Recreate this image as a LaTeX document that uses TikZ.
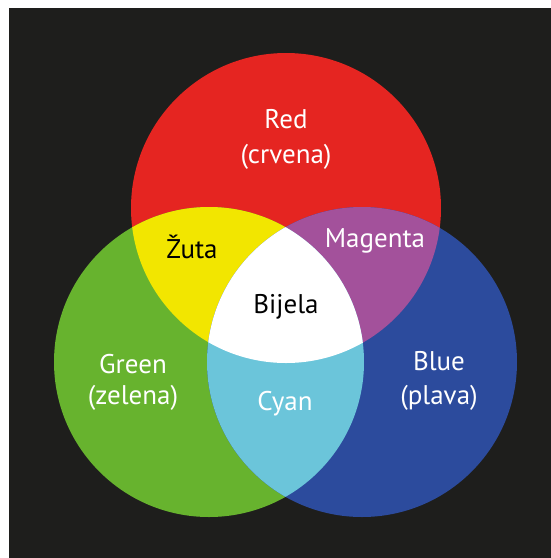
\documentclass[tikz,border=0pt]{standalone}
\usepackage{fontspec}
\setmainfont{PT Sans}
\definecolor{bg}{HTML}{1E1E1C}
\definecolor{cred}{HTML}{E52521}
\definecolor{cgreen}{HTML}{67B32E}
\definecolor{cblue}{HTML}{2C4B9D}
\definecolor{cyellow}{HTML}{F2E600}
\definecolor{cmagenta}{HTML}{A3519B}
\definecolor{ccyan}{HTML}{6BC5DA}
\begin{document}
\begin{tikzpicture}[x=1pt,y=-1pt,
  lbl/.style={font=\fontsize{27}{34}\selectfont, align=center, inner sep=0pt},
  wlbl/.style={lbl, text=white},
  blbl/.style={lbl, text=black}]
\useasboundingbox (0,0) rectangle (551,558);
\fill[white] (0,0) rectangle (551,558);
\fill[bg] (9,8) rectangle (551,558);
\def\R{155}
\coordinate (rc) at (286,208);
\coordinate (gc) at (209,362);
\coordinate (bc) at (362,362);
\fill[cred] (rc) circle[radius=\R];
\fill[cgreen] (gc) circle[radius=\R];
\fill[cblue] (bc) circle[radius=\R];
\begin{scope}
  \clip (rc) circle[radius=\R];
  \fill[cyellow] (gc) circle[radius=\R];
\end{scope}
\begin{scope}
  \clip (rc) circle[radius=\R];
  \fill[cmagenta] (bc) circle[radius=\R];
\end{scope}
\begin{scope}
  \clip (gc) circle[radius=\R];
  \fill[ccyan] (bc) circle[radius=\R];
\end{scope}
\begin{scope}
  \clip (rc) circle[radius=\R];
  \clip (gc) circle[radius=\R];
  \fill[white] (bc) circle[radius=\R];
\end{scope}
\node[wlbl, anchor=base] (red) at (286,128) {Red};
\node[wlbl, anchor=base] (crvena) at (286,163) {(crvena)};
\node[wlbl, anchor=base] (green) at (133,373) {Green};
\node[wlbl, anchor=base] (zelena) at (133,404) {(zelena)};
\node[wlbl, anchor=base] (blue) at (439,370) {Blue};
\node[wlbl, anchor=base] (plava) at (439,404) {(plava)};
\node[blbl, anchor=base] (zuta) at (192,258) {Žuta};
\node[wlbl, anchor=base] (magenta) at (375,247) {Magenta};
\node[blbl, anchor=base] (bijela) at (286,313) {Bijela};
\node[wlbl, anchor=base] (cyan) at (285,410) {Cyan};
\end{tikzpicture}
\end{document}
